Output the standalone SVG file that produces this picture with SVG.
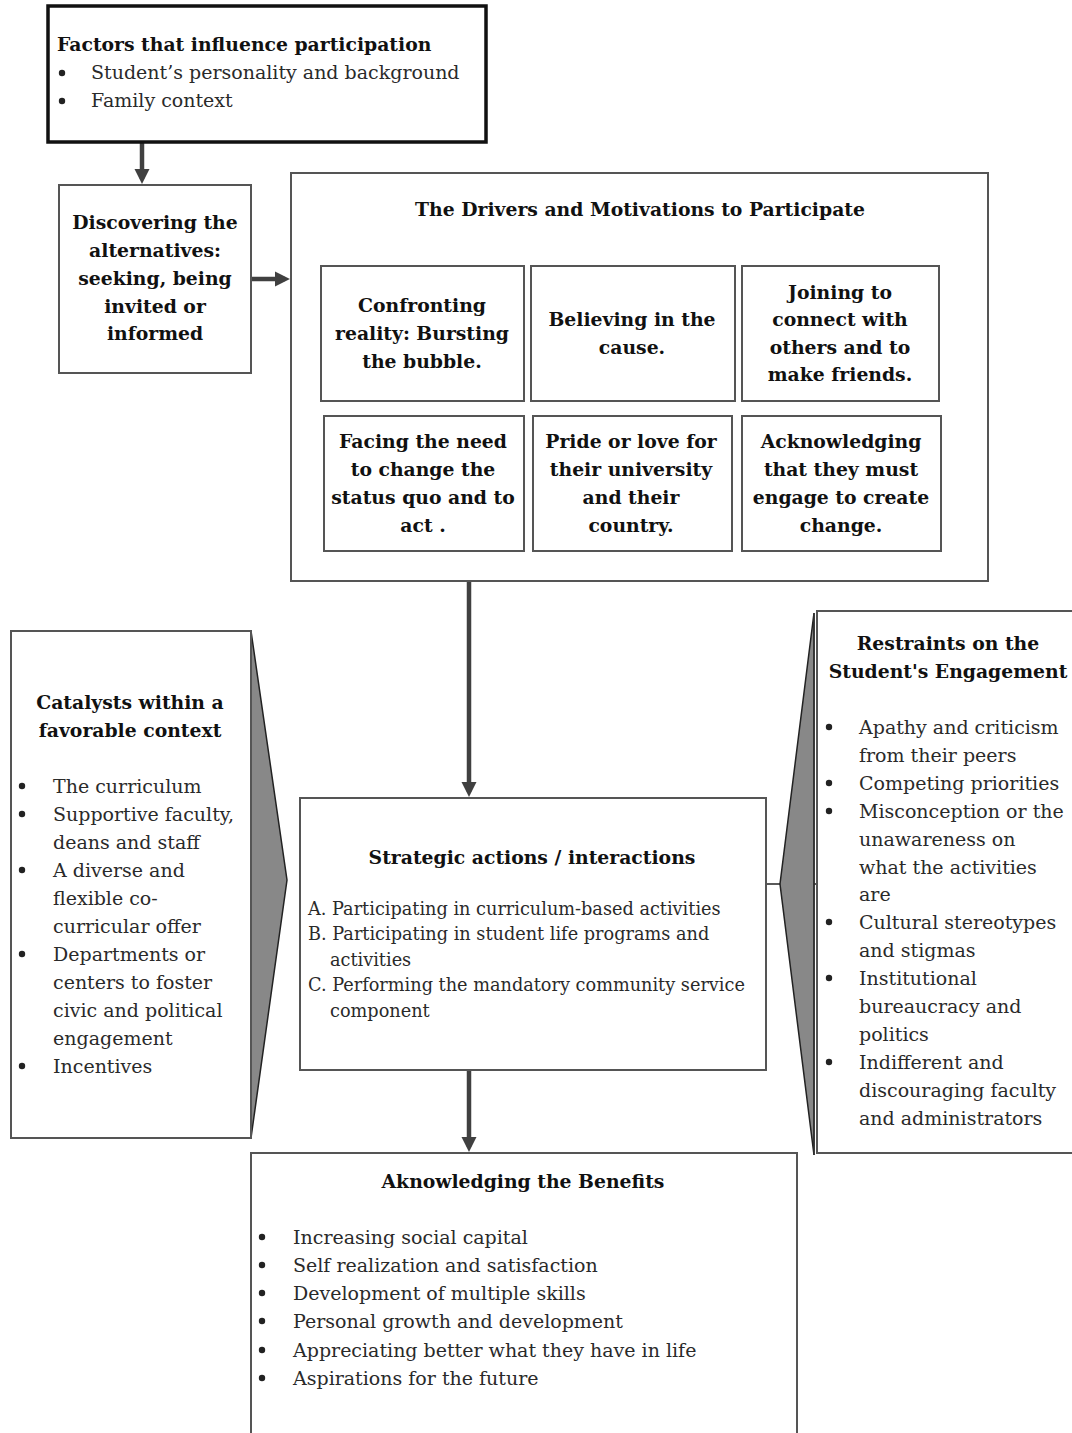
<svg xmlns="http://www.w3.org/2000/svg" width="1072" height="1433" viewBox="0 0 1072 1433">
<defs>
<marker id="ah" markerWidth="3.4" markerHeight="3.4" refX="2.3" refY="1.7" orient="auto" markerUnits="strokeWidth">
<path d="M0,0 L3.4,1.7 L0,3.4 z" fill="#404040"/>
</marker>
<style>
.bx{fill:#fff;stroke:#555;stroke-width:2}
.t{font-family:"DejaVu Serif","Liberation Serif",serif;font-size:19px;fill:#2a2a2a}
.b{font-family:"DejaVu Serif","Liberation Serif",serif;font-size:18.8px;font-weight:bold;fill:#111}
.c{text-anchor:middle}
.s{font-size:17.7px}
.con{stroke:#404040;stroke-width:4.5;fill:none}
.tri{fill:#888;stroke:#222;stroke-width:1.5}
.dot{fill:#222}
</style>
</defs>
<rect width="1072" height="1433" fill="#fff"/>

<g id="connectors">
<line class="con" x1="142" y1="143" x2="142" y2="179" marker-end="url(#ah)"/>
<line class="con" x1="251" y1="279" x2="285" y2="279" marker-end="url(#ah)"/>
<line class="con" x1="469" y1="581" x2="469" y2="792" marker-end="url(#ah)"/>
<line class="con" x1="469" y1="1070" x2="469" y2="1147" marker-end="url(#ah)"/>
<line x1="766" y1="884" x2="781" y2="884" stroke="#222" stroke-width="1.5"/>
<line x1="802" y1="884" x2="817" y2="884" stroke="#222" stroke-width="1.5"/>
</g>

<g id="factors">
<rect x="48" y="6" width="438" height="136" fill="#fff" stroke="#111" stroke-width="3.5"/>
<text class="b" x="57" y="51">Factors that influence participation</text>
<circle class="dot" cx="62" cy="73" r="3.2"/>
<circle class="dot" cx="62" cy="101" r="3.2"/>
<text class="t" x="91" y="79">Student’s personality and background</text>
<text class="t" x="91" y="107">Family context</text>
</g>

<g id="discovering">
<rect class="bx" x="59" y="185" width="192" height="188"/>
<text class="b c" x="155" y="229">Discovering the</text>
<text class="b c" x="155" y="257">alternatives:</text>
<text class="b c" x="155" y="285">seeking, being</text>
<text class="b c" x="155" y="313">invited or</text>
<text class="b c" x="155" y="340">informed</text>
</g>

<g id="drivers">
<rect class="bx" x="291" y="173" width="697" height="408"/>
<text class="b c" x="640" y="216">The Drivers and Motivations to Participate</text>
</g>
<g id="d1"><rect class="bx" x="321" y="266" width="203" height="135"/>
<text class="b c" x="422" y="312">Confronting</text>
<text class="b c" x="422" y="340">reality: Bursting</text>
<text class="b c" x="422" y="368">the bubble.</text></g>
<g id="d2"><rect class="bx" x="531" y="266" width="204" height="135"/>
<text class="b c" x="632" y="326">Believing in the</text>
<text class="b c" x="632" y="354">cause.</text></g>
<g id="d3"><rect class="bx" x="742" y="266" width="197" height="135"/>
<text class="b c" x="840" y="299">Joining to</text>
<text class="b c" x="840" y="326">connect with</text>
<text class="b c" x="840" y="354">others and to</text>
<text class="b c" x="840" y="381">make friends.</text></g>
<g id="d4"><rect class="bx" x="324" y="416" width="200" height="135"/>
<text class="b c" x="423" y="448">Facing the need</text>
<text class="b c" x="423" y="476">to change the</text>
<text class="b c" x="423" y="504">status quo and to</text>
<text class="b c" x="423" y="532">act .</text></g>
<g id="d5"><rect class="bx" x="533" y="416" width="199" height="135"/>
<text class="b c" x="631" y="448">Pride or love for</text>
<text class="b c" x="631" y="476">their university</text>
<text class="b c" x="631" y="504">and their</text>
<text class="b c" x="631" y="532">country.</text></g>
<g id="d6"><rect class="bx" x="742" y="416" width="199" height="135"/>
<text class="b c" x="841" y="448">Acknowledging</text>
<text class="b c" x="841" y="476">that they must</text>
<text class="b c" x="841" y="504">engage to create</text>
<text class="b c" x="841" y="532">change.</text></g>

<g id="strategic">
<rect class="bx" x="300" y="798" width="466" height="272"/>
<text class="b c" x="532" y="864">Strategic actions / interactions</text>
<text class="t s" x="308" y="915">A. Participating in curriculum-based activities</text>
<text class="t s" x="308" y="940">B. Participating in student life programs and</text>
<text class="t s" x="330" y="966">activities</text>
<text class="t s" x="308" y="991">C. Performing the mandatory community service</text>
<text class="t s" x="330" y="1017">component</text>
</g>

<g id="catalysts">
<polygon class="tri" points="251,631 287,880 251,1138"/>
<rect class="bx" x="11" y="631" width="240" height="507"/>
<text class="b c" x="130" y="709">Catalysts within a</text>
<text class="b c" x="130" y="737">favorable context</text>
<circle class="dot" cx="22" cy="786" r="3.2"/><circle class="dot" cx="22" cy="814" r="3.2"/><circle class="dot" cx="22" cy="870" r="3.2"/><circle class="dot" cx="22" cy="954" r="3.2"/><circle class="dot" cx="22" cy="1066" r="3.2"/>
<text class="t" x="53" y="793">The curriculum</text>
<text class="t" x="53" y="821">Supportive faculty,</text>
<text class="t" x="53" y="849">deans and staff</text>
<text class="t" x="53" y="877">A diverse and</text>
<text class="t" x="53" y="905">flexible co-</text>
<text class="t" x="53" y="933">curricular offer</text>
<text class="t" x="53" y="961">Departments or</text>
<text class="t" x="53" y="989">centers to foster</text>
<text class="t" x="53" y="1017">civic and political</text>
<text class="t" x="53" y="1045">engagement</text>
<text class="t" x="53" y="1073">Incentives</text>
</g>

<g id="restraints">
<polygon class="tri" points="814,613 780,884 814,1155"/>
<rect class="bx" x="817" y="611" width="260" height="542"/>
<line x1="814" y1="613" x2="814" y2="1155" stroke="#333" stroke-width="1.5"/>
<text class="b c" x="948" y="650">Restraints on the</text>
<text class="b c" x="948" y="678">Student's Engagement</text>
<circle class="dot" cx="829" cy="727" r="3.2"/><circle class="dot" cx="829" cy="783" r="3.2"/><circle class="dot" cx="829" cy="811" r="3.2"/><circle class="dot" cx="829" cy="922" r="3.2"/><circle class="dot" cx="829" cy="978" r="3.2"/><circle class="dot" cx="829" cy="1062" r="3.2"/>
<text class="t" x="859" y="734">Apathy and criticism</text>
<text class="t" x="859" y="762">from their peers</text>
<text class="t" x="859" y="790">Competing priorities</text>
<text class="t" x="859" y="818">Misconception or the</text>
<text class="t" x="859" y="846">unawareness on</text>
<text class="t" x="859" y="874">what the activities</text>
<text class="t" x="859" y="901">are</text>
<text class="t" x="859" y="929">Cultural stereotypes</text>
<text class="t" x="859" y="957">and stigmas</text>
<text class="t" x="859" y="985">Institutional</text>
<text class="t" x="859" y="1013">bureaucracy and</text>
<text class="t" x="859" y="1041">politics</text>
<text class="t" x="859" y="1069">Indifferent and</text>
<text class="t" x="859" y="1097">discouraging faculty</text>
<text class="t" x="859" y="1125">and administrators</text>
</g>

<g id="benefits">
<rect class="bx" x="251" y="1153" width="546" height="300"/>
<text class="b c" x="523" y="1188">Aknowledging the Benefits</text>
<circle class="dot" cx="262" cy="1237" r="3.2"/><circle class="dot" cx="262" cy="1265" r="3.2"/><circle class="dot" cx="262" cy="1293" r="3.2"/><circle class="dot" cx="262" cy="1321" r="3.2"/><circle class="dot" cx="262" cy="1350" r="3.2"/><circle class="dot" cx="262" cy="1378" r="3.2"/>
<text class="t" x="293" y="1244">Increasing social capital</text>
<text class="t" x="293" y="1272">Self realization and satisfaction</text>
<text class="t" x="293" y="1300">Development of multiple skills</text>
<text class="t" x="293" y="1328">Personal growth and development</text>
<text class="t" x="293" y="1357">Appreciating better what they have in life</text>
<text class="t" x="293" y="1385">Aspirations for the future</text>
</g>
</svg>
